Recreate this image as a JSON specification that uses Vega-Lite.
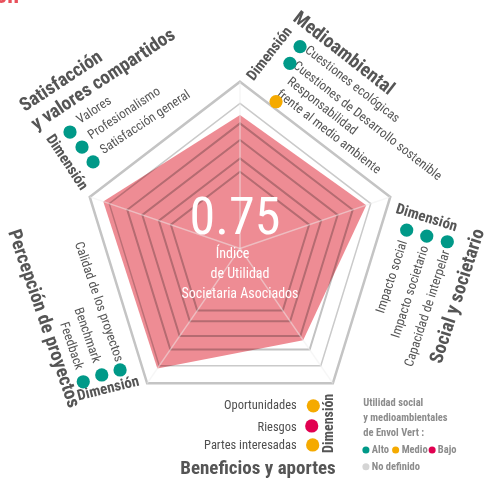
{
  "$schema": "https://vega.github.io/schema/vega-lite/v6.json",
  "width": 486,
  "height": 483,
  "autosize": {"type": "none"},
  "padding": 0,
  "background": "white",
  "config": {"view": {"stroke": null}, "font": "Roboto Condensed, Liberation Sans, sans-serif"},
  "datasets": {
    "radar": [
      {"dim": "Medioambiental", "i": 0, "value": 0.80},
      {"dim": "Social y societario", "i": 1, "value": 0.84},
      {"dim": "Beneficios y aportes", "i": 2, "value": 0.68},
      {"dim": "Percepción de proyectos", "i": 3, "value": 0.89},
      {"dim": "Satisfacción y valores compartidos", "i": 4, "value": 0.91}
    ],
    "grid": [
      {"level": 1.0, "i": 0}, {"level": 1.0, "i": 1}, {"level": 1.0, "i": 2}, {"level": 1.0, "i": 3}, {"level": 1.0, "i": 4},
      {"level": 0.87, "i": 0}, {"level": 0.87, "i": 1}, {"level": 0.87, "i": 2}, {"level": 0.87, "i": 3}, {"level": 0.87, "i": 4},
      {"level": 0.75, "i": 0}, {"level": 0.75, "i": 1}, {"level": 0.75, "i": 2}, {"level": 0.75, "i": 3}, {"level": 0.75, "i": 4},
      {"level": 0.65, "i": 0}, {"level": 0.65, "i": 1}, {"level": 0.65, "i": 2}, {"level": 0.65, "i": 3}, {"level": 0.65, "i": 4},
      {"level": 0.54, "i": 0}, {"level": 0.54, "i": 1}, {"level": 0.54, "i": 2}, {"level": 0.54, "i": 3}, {"level": 0.54, "i": 4},
      {"level": 0.46, "i": 0}, {"level": 0.46, "i": 1}, {"level": 0.46, "i": 2}, {"level": 0.46, "i": 3}, {"level": 0.46, "i": 4}
    ],
    "labels": [
      {"grp": "tA", "text": "Satisfacción", "X": -1.134, "Y": 1.005},
      {"grp": "tA", "text": "y valores compartidos", "X": -0.867, "Y": 1.016},
      {"grp": "iA", "text": "Valores", "X": -0.924, "Y": 0.830},
      {"grp": "iA", "text": "Profesionalismo", "X": -0.734, "Y": 0.812},
      {"grp": "iA", "text": "Satisfacción general", "X": -0.601, "Y": 0.758},
      {"grp": "dA", "text": "Dimensión", "X": -1.092, "Y": 0.518},
      {"grp": "tB", "text": "Medioambiental", "X": 0.658, "Y": 1.172},
      {"grp": "iB", "text": "Cuestiones ecológicas", "X": 0.712, "Y": 0.986},
      {"grp": "iB", "text": "Cuestiones de Desarrollo sostenible", "X": 0.807, "Y": 0.766},
      {"grp": "iB", "text": "Responsabilidad", "X": 0.522, "Y": 0.854},
      {"grp": "iB", "text": "frente al medio ambiente", "X": 0.563, "Y": 0.700},
      {"grp": "dB", "text": "Dimensión", "X": 0.184, "Y": 1.170},
      {"grp": "tC", "text": "Social y societario", "X": 1.374, "Y": -0.285},
      {"grp": "iC", "text": "Impacto social", "X": 0.960, "Y": -0.170},
      {"grp": "iC", "text": "Impacto societario", "X": 1.076, "Y": -0.260},
      {"grp": "iC", "text": "Capacidad de interpelar", "X": 1.185, "Y": -0.360},
      {"grp": "dC", "text": "Dimensión", "X": 1.182, "Y": 0.187},
      {"grp": "tD", "text": "Beneficios y aportes", "X": 0.114, "Y": -1.319},
      {"grp": "iD", "text": "Oportunidades", "X": 0.359, "Y": -0.939},
      {"grp": "iD", "text": "Riesgos", "X": 0.359, "Y": -1.070},
      {"grp": "iD", "text": "Partes interesadas", "X": 0.359, "Y": -1.179},
      {"grp": "dD", "text": "Dimensión", "X": 0.565, "Y": -1.049},
      {"grp": "tE", "text": "Percepción de proyectos", "X": -1.240, "Y": -0.420},
      {"grp": "iE", "text": "Calidad de los proyectos", "X": -0.892, "Y": -0.320},
      {"grp": "iE", "text": "Benchmark", "X": -0.965, "Y": -0.520},
      {"grp": "iE", "text": "Feedback", "X": -1.065, "Y": -0.584},
      {"grp": "dE", "text": "Dimensión", "X": -0.835, "Y": -0.837},
      {"grp": "big", "text": "0.75", "X": -0.032, "Y": 0.185},
      {"grp": "sub", "text": "Índice", "X": -0.047, "Y": -0.034},
      {"grp": "sub", "text": "de Utilidad", "X": 0.0, "Y": -0.154},
      {"grp": "sub", "text": "Societaria Asociados", "X": 0.0, "Y": -0.274},
      {"grp": "leg", "text": "Utilidad social", "X": 0.780, "Y": -0.929},
      {"grp": "leg", "text": "y medioambientales", "X": 0.780, "Y": -1.019},
      {"grp": "leg", "text": "de Envol Vert :", "X": 0.780, "Y": -1.109},
      {"grp": "leg", "text": "Alto", "X": 0.834, "Y": -1.209},
      {"grp": "leg", "text": "Medio", "X": 1.023, "Y": -1.209},
      {"grp": "leg", "text": "Bajo", "X": 1.252, "Y": -1.209},
      {"grp": "leg", "text": "No definido", "X": 0.834, "Y": -1.310},
      {"grp": "frag", "text": "ón", "X": -1.399, "Y": 1.472}
    ],
    "dots": [
      {"grp": "main", "level": "Alto", "X": -1.076, "Y": 0.698},
      {"grp": "main", "level": "Alto", "X": -1.0, "Y": 0.608},
      {"grp": "main", "level": "Alto", "X": -0.930, "Y": 0.519},
      {"grp": "main", "level": "Alto", "X": 0.380, "Y": 1.210},
      {"grp": "main", "level": "Alto", "X": 0.316, "Y": 1.110},
      {"grp": "main", "level": "Medio", "X": 0.228, "Y": 0.880},
      {"grp": "main", "level": "Alto", "X": 1.055, "Y": 0.110},
      {"grp": "main", "level": "Alto", "X": 1.182, "Y": 0.074},
      {"grp": "main", "level": "Alto", "X": 1.312, "Y": 0.040},
      {"grp": "main", "level": "Medio", "X": 0.464, "Y": -0.944},
      {"grp": "main", "level": "Bajo", "X": 0.454, "Y": -1.065},
      {"grp": "main", "level": "Medio", "X": 0.460, "Y": -1.179},
      {"grp": "main", "level": "Alto", "X": -0.992, "Y": -0.800},
      {"grp": "main", "level": "Alto", "X": -0.875, "Y": -0.759},
      {"grp": "main", "level": "Alto", "X": -0.759, "Y": -0.729},
      {"grp": "leg", "level": "Alto", "X": 0.797, "Y": -1.209},
      {"grp": "leg", "level": "Medio", "X": 0.985, "Y": -1.209},
      {"grp": "leg", "level": "Bajo", "X": 1.216, "Y": -1.209},
      {"grp": "leg", "level": "No definido", "X": 0.797, "Y": -1.310}
    ]
  },
  "encoding": {
    "x": {"field": "X", "type": "quantitative", "scale": {"domain": [-1.519, 1.557], "nice": false, "zero": false}, "axis": null},
    "y": {"field": "Y", "type": "quantitative", "scale": {"domain": [-1.407, 1.490], "nice": false, "zero": false}, "axis": null}
  },
  "layer": [
    {
      "data": {"name": "radar"},
      "transform": [
        {"calculate": "datum.value * sin(datum.i * 2 * PI / 5)", "as": "X"},
        {"calculate": "datum.value * cos(datum.i * 2 * PI / 5)", "as": "Y"}
      ],
      "mark": {"type": "line", "interpolate": "linear-closed", "fill": "#ee8c94", "stroke": null, "strokeWidth": 0},
      "encoding": {"order": {"field": "i", "type": "quantitative"}}
    },
    {
      "data": {"name": "grid"},
      "transform": [
        {"filter": "datum.level == 1"},
        {"calculate": "datum.level * sin(datum.i * 2 * PI / 5)", "as": "X"},
        {"calculate": "datum.level * cos(datum.i * 2 * PI / 5)", "as": "Y"}
      ],
      "mark": {"type": "line", "interpolate": "linear-closed", "stroke": "#c4c4c4", "strokeWidth": 2.5, "blend": "multiply"},
      "encoding": {"order": {"field": "i", "type": "quantitative"}, "detail": {"field": "level"}}
    },
    {
      "data": {"name": "grid"},
      "transform": [
        {"filter": "datum.level == 0.87"},
        {"calculate": "datum.level * sin(datum.i * 2 * PI / 5)", "as": "X"},
        {"calculate": "datum.level * cos(datum.i * 2 * PI / 5)", "as": "Y"}
      ],
      "mark": {"type": "line", "interpolate": "linear-closed", "stroke": "#cacaca", "strokeWidth": 1.5, "blend": "multiply"},
      "encoding": {"order": {"field": "i", "type": "quantitative"}, "detail": {"field": "level"}}
    },
    {
      "data": {"name": "grid"},
      "transform": [
        {"filter": "datum.level < 0.8"},
        {"calculate": "datum.level * sin(datum.i * 2 * PI / 5)", "as": "X"},
        {"calculate": "datum.level * cos(datum.i * 2 * PI / 5)", "as": "Y"}
      ],
      "mark": {"type": "line", "interpolate": "linear-closed", "stroke": "#c2c2c2", "strokeWidth": 2, "blend": "multiply"},
      "encoding": {"order": {"field": "i", "type": "quantitative"}, "detail": {"field": "level"}}
    },
    {
      "data": {"name": "grid"},
      "transform": [
        {"filter": "datum.level == 1"},
        {"calculate": "datum.level * sin(datum.i * 2 * PI / 5)", "as": "X"},
        {"calculate": "datum.level * cos(datum.i * 2 * PI / 5)", "as": "Y"}
      ],
      "mark": {"type": "rule", "color": "#eeeeee", "opacity": 0.5, "strokeWidth": 1.5},
      "encoding": {"x2": {"datum": 0}, "y2": {"datum": 0}}
    },
    {
      "data": {"name": "labels"},
      "transform": [{"filter": "datum.grp == 'tA'"}],
      "mark": {"type": "text", "angle": 326.5, "fontSize": 19, "fontWeight": "bold", "color": "#555555", "align": "center", "baseline": "middle"},
      "encoding": {"text": {"field": "text"}}
    },
    {
      "data": {"name": "labels"},
      "transform": [{"filter": "datum.grp == 'iA'"}],
      "mark": {"type": "text", "angle": 326.5, "fontSize": 13, "color": "#545454", "align": "center", "baseline": "middle"},
      "encoding": {"text": {"field": "text"}}
    },
    {
      "data": {"name": "labels"},
      "transform": [{"filter": "datum.grp == 'dA'"}],
      "mark": {"type": "text", "angle": 56.5, "fontSize": 15, "fontWeight": "bold", "color": "#555555", "align": "center", "baseline": "middle"},
      "encoding": {"text": {"field": "text"}}
    },
    {
      "data": {"name": "labels"},
      "transform": [{"filter": "datum.grp == 'tB'"}],
      "mark": {"type": "text", "angle": 38, "fontSize": 19, "fontWeight": "bold", "color": "#555555", "align": "center", "baseline": "middle"},
      "encoding": {"text": {"field": "text"}}
    },
    {
      "data": {"name": "labels"},
      "transform": [{"filter": "datum.grp == 'iB'"}],
      "mark": {"type": "text", "angle": 38, "fontSize": 13, "color": "#545454", "align": "center", "baseline": "middle"},
      "encoding": {"text": {"field": "text"}}
    },
    {
      "data": {"name": "labels"},
      "transform": [{"filter": "datum.grp == 'dB'"}],
      "mark": {"type": "text", "angle": 308, "fontSize": 15, "fontWeight": "bold", "color": "#555555", "align": "center", "baseline": "middle"},
      "encoding": {"text": {"field": "text"}}
    },
    {
      "data": {"name": "labels"},
      "transform": [{"filter": "datum.grp == 'tC'"}],
      "mark": {"type": "text", "angle": 288, "fontSize": 19, "fontWeight": "bold", "color": "#555555", "align": "center", "baseline": "middle"},
      "encoding": {"text": {"field": "text"}}
    },
    {
      "data": {"name": "labels"},
      "transform": [{"filter": "datum.grp == 'iC'"}],
      "mark": {"type": "text", "angle": 288, "fontSize": 13, "color": "#545454", "align": "center", "baseline": "middle"},
      "encoding": {"text": {"field": "text"}}
    },
    {
      "data": {"name": "labels"},
      "transform": [{"filter": "datum.grp == 'dC'"}],
      "mark": {"type": "text", "angle": 17, "fontSize": 15, "fontWeight": "bold", "color": "#555555", "align": "center", "baseline": "middle"},
      "encoding": {"text": {"field": "text"}}
    },
    {
      "data": {"name": "labels"},
      "transform": [{"filter": "datum.grp == 'tD'"}],
      "mark": {"type": "text", "fontSize": 19, "fontWeight": "bold", "color": "#555555", "align": "center", "baseline": "middle"},
      "encoding": {"text": {"field": "text"}}
    },
    {
      "data": {"name": "labels"},
      "transform": [{"filter": "datum.grp == 'iD'"}],
      "mark": {"type": "text", "fontSize": 12.5, "color": "#4f4f4f", "align": "right", "baseline": "middle"},
      "encoding": {"text": {"field": "text"}}
    },
    {
      "data": {"name": "labels"},
      "transform": [{"filter": "datum.grp == 'dD'"}],
      "mark": {"type": "text", "angle": 270, "fontSize": 14, "fontWeight": "bold", "color": "#555555", "align": "center", "baseline": "middle"},
      "encoding": {"text": {"field": "text"}}
    },
    {
      "data": {"name": "labels"},
      "transform": [{"filter": "datum.grp == 'tE'"}],
      "mark": {"type": "text", "angle": 71, "fontSize": 19, "fontWeight": "bold", "color": "#555555", "align": "center", "baseline": "middle"},
      "encoding": {"text": {"field": "text"}}
    },
    {
      "data": {"name": "labels"},
      "transform": [{"filter": "datum.grp == 'iE'"}],
      "mark": {"type": "text", "angle": 71, "fontSize": 13, "color": "#545454", "align": "center", "baseline": "middle"},
      "encoding": {"text": {"field": "text"}}
    },
    {
      "data": {"name": "labels"},
      "transform": [{"filter": "datum.grp == 'dE'"}],
      "mark": {"type": "text", "angle": 346, "fontSize": 15, "fontWeight": "bold", "color": "#555555", "align": "center", "baseline": "middle"},
      "encoding": {"text": {"field": "text"}}
    },
    {
      "data": {"name": "labels"},
      "transform": [{"filter": "datum.grp == 'big'"}],
      "mark": {"type": "text", "fontSize": 52, "color": "#ffffff", "align": "center", "baseline": "middle"},
      "encoding": {"text": {"field": "text"}}
    },
    {
      "data": {"name": "labels"},
      "transform": [{"filter": "datum.grp == 'sub'"}],
      "mark": {"type": "text", "fontSize": 14, "color": "#ffffff", "align": "center", "baseline": "middle"},
      "encoding": {"text": {"field": "text"}}
    },
    {
      "data": {"name": "labels"},
      "transform": [{"filter": "datum.grp == 'leg'"}],
      "mark": {"type": "text", "fontSize": 10.5, "fontWeight": "bold", "color": "#8c8c8c", "align": "left", "baseline": "middle"},
      "encoding": {"text": {"field": "text"}}
    },
    {
      "data": {"name": "labels"},
      "transform": [{"filter": "datum.grp == 'frag'"}],
      "mark": {"type": "text", "fontSize": 24, "fontWeight": "bold", "color": "#e8505b", "align": "right", "baseline": "alphabetic"},
      "encoding": {"text": {"field": "text"}}
    },
    {
      "data": {"values": [{"bar": "legend"}]},
      "mark": {"type": "rule", "color": "#aaaaaa", "strokeWidth": 2},
      "encoding": {"x": {"datum": 0.742}, "y": {"datum": -0.909}, "y2": {"datum": -1.378}}
    },
    {
      "data": {"name": "dots"},
      "transform": [{"filter": "datum.grp == 'main'"}],
      "mark": {"type": "circle", "size": 175, "opacity": 1},
      "encoding": {
        "color": {"field": "level", "type": "nominal", "scale": {"domain": ["Alto", "Medio", "Bajo", "No definido"], "range": ["#009988", "#f5aa00", "#e10050", "#d5d5d5"]}, "legend": null}
      }
    },
    {
      "data": {"name": "dots"},
      "transform": [{"filter": "datum.grp == 'leg'"}],
      "mark": {"type": "circle", "size": 50, "opacity": 1},
      "encoding": {
        "color": {"field": "level", "type": "nominal", "legend": null}
      }
    }
  ]
}
